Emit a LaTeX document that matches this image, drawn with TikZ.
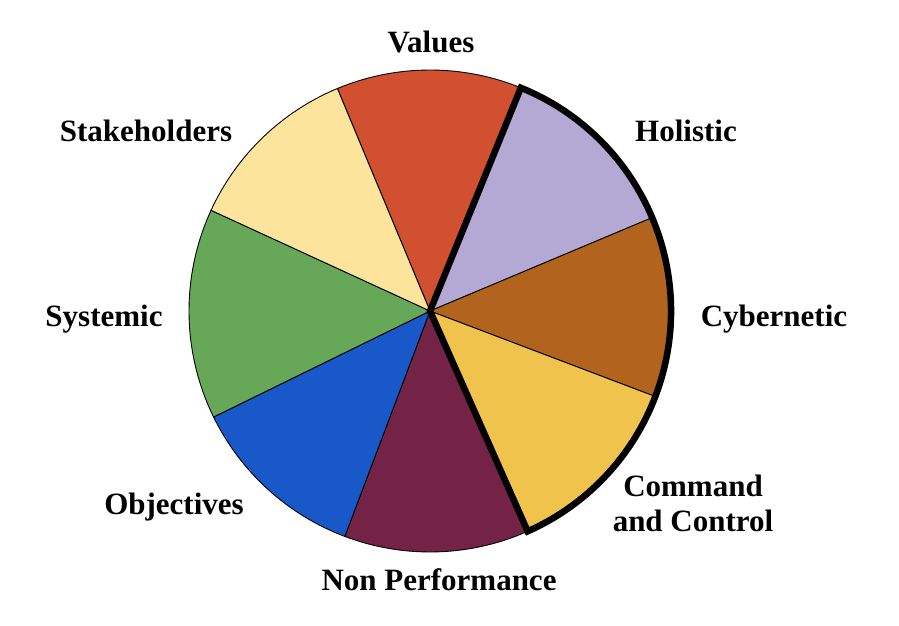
\documentclass[tikz,border=0pt]{standalone}
\usepackage{fontspec}
\setmainfont{Liberation Serif}
\usepackage{tikz}
\usetikzlibrary{positioning}

\definecolor{valuescol}{RGB}{208,80,48}
\definecolor{holisticcol}{RGB}{180,168,212}
\definecolor{cyberncol}{RGB}{178,100,30}
\definecolor{commandcol}{RGB}{240,196,76}
\definecolor{nonperfcol}{RGB}{116,34,70}
\definecolor{objectcol}{RGB}{24,88,200}
\definecolor{systemcol}{RGB}{102,168,88}
\definecolor{stakecol}{RGB}{252,228,156}

\begin{document}
\begin{tikzpicture}[x=1pt, y=1pt,
    slice/.style={draw=black, line width=0.9pt, line join=round},
    rim/.style={draw=black, line width=6.5pt, line join=miter},
    lbl/.style={font=\fontsize{31}{35}\selectfont\bfseries, align=center, inner sep=0pt, anchor=base}]
    \useasboundingbox (0,0) rectangle (899,626);

    %% Pie
    \coordinate (c) at (430,315);
    \foreach \a/\b/\col in {67.85/112.6/valuescol, 22.8/67.85/holisticcol,
        -20.8/22.8/cyberncol, -66.1/-20.8/commandcol, -110.7/-66.1/nonperfcol,
        -153.9/-110.7/objectcol, 155.3/206.1/systemcol, 112.6/155.3/stakecol}
    {
        \draw[slice, fill=\col, shift={(c)}] (0,0) -- (\a:241pt)
            arc[start angle=\a, end angle=\b, radius=241pt] -- cycle;
    }

    %% Thick outline round the right part
    \draw[rim, shift={(c)}] (0,0) -- (67.85:241pt)
        arc[start angle=67.85, end angle=-66.1, radius=241pt] -- cycle;

    %% Labels
    \node[lbl] (values) at (431,573) {Values};
    \node[lbl] (holistic) at (686,484) {Holistic};
    \node[lbl] (stake) at (146,484) {Stakeholders};
    \node[lbl] (systemic) at (104,299) {Systemic};
    \node[lbl] (cybern) at (774,299) {Cybernetic};
    \node[lbl] (object) at (174,111) {Objectives};
    \node[lbl] (command) at (693,94) {Command\\and Control};
    \node[lbl] (nonperf) at (439,35) {Non Performance};
\end{tikzpicture}
\end{document}
